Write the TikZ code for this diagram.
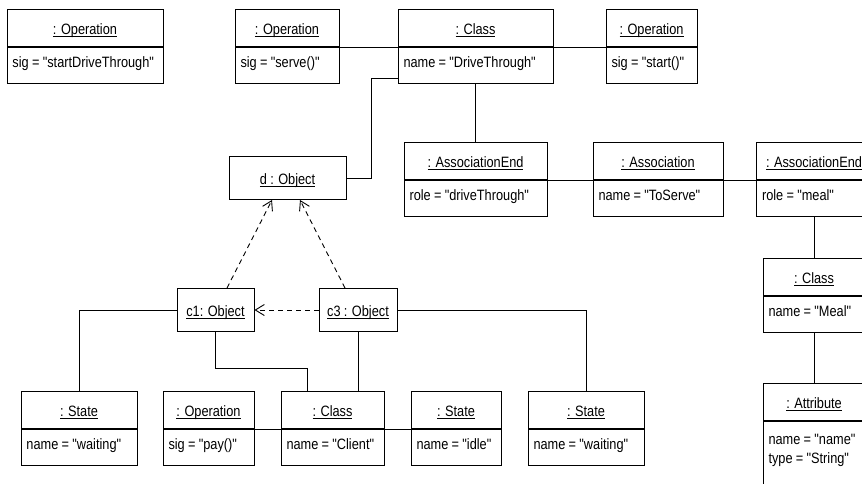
\documentclass[tikz,border=0pt]{standalone}
\usepackage{fontspec}
\newfontfamily\umlsans{Liberation Sans}[FakeStretch=0.85]
\usetikzlibrary{arrows.meta,positioning}
\newcommand{\umlfont}{\umlsans\fontsize{15}{19.5}\selectfont
  \spaceskip=3.3pt plus 1pt minus 1pt\relax}
\newcommand{\uname}[1]{\setbox0\hbox{#1}\rlap{\rule[-2.6pt]{\wd0}{0.9pt}}\box0}

\begin{document}
\begin{tikzpicture}[
  x=1pt, y=-1pt,
  font=\umlfont,
  objtitle/.style={
    draw,
    line width=1pt,
    anchor=north,
    minimum width=#1,
    minimum height=37pt,
    inner sep=0pt,
    text height=13pt,
    text depth=0pt
  },
  objsingle/.style={objtitle=#1, minimum height=43pt},
  objattr/.style={
    draw,
    line width=1pt,
    anchor=north,
    text width=#1,
    minimum height=36pt,
    inner xsep=5.5pt,
    inner ysep=0pt,
    align=left,
    text height=10pt,
    text depth=6pt,
    execute at begin node={\spaceskip=3.3pt plus 1pt minus 1pt\relax
      \rightskip=0pt plus 1fil minus 60pt\relax}
  },
  link/.style={line width=0.9pt},
  inst/.style={link, dash pattern=on 5pt off 4pt,
    -{Straight Barb[length=9pt,width=11pt]}},
]
\useasboundingbox (0,0) rectangle (862,483);
\clip (0,0) rectangle (862,483);

% Top row.
\node[objtitle=156pt] (opDrive) at (85,9) {\uname{: Operation}};
\node[objattr=145pt, below=0pt of opDrive] (opDriveA) {sig = "startDriveThrough"};
\node[objtitle=104pt] (opServe) at (287,9) {\uname{: Operation}};
\node[objattr=93pt, below=0pt of opServe] (opServeA) {sig = "serve()"};
\node[objtitle=155pt] (clsDrive) at (475.5,9) {\uname{: Class}};
\node[objattr=144pt, below=0pt of clsDrive] (clsDriveA) {name = "DriveThrough"};
\node[objtitle=91pt] (opStart) at (651.5,9) {\uname{: Operation}};
\node[objattr=80pt, below=0pt of opStart] (opStartA) {sig = "start()"};

% Association row.
\node[objsingle=117pt] (dObj) at (287.5,156) {\uname{d : Object}};
\node[objtitle=143pt] (aeDrive) at (475.5,142) {\uname{: AssociationEnd}};
\node[objattr=132pt, below=0pt of aeDrive] (aeDriveA) {role = "driveThrough"};
\node[objtitle=130pt] (assoc) at (658,142) {\uname{: Association}};
\node[objattr=119pt, below=0pt of assoc] (assocA) {name = "ToServe"};
\node[objtitle=115pt] (aeMeal) at (814,142) {\uname{: AssociationEnd}};
\node[objattr=104pt, below=0pt of aeMeal] (aeMealA) {role = "meal"};

% Meal column.
\node[objtitle=102pt] (clsMeal) at (814,258) {\uname{: Class}};
\node[objattr=91pt, below=0pt of clsMeal] (clsMealA) {name = "Meal"};
\node[objtitle=102pt] (attrName) at (814,383) {\uname{: Attribute}};
\node[objattr=91pt, below=0pt of attrName, text height=10.5pt, text depth=60pt,
      inner ysep=12pt] (attrNameA) {name = "name"\\type = "String"};

% Instances.
\node[objsingle=77pt] (cOne) at (215.5,288) {\uname{c1: Object}};
\node[objsingle=78pt] (cThree) at (358,288) {\uname{c3 : Object}};

% Bottom row.
\node[objtitle=116pt] (stWait) at (79,391) {\uname{: State}};
\node[objattr=105pt, below=0pt of stWait] (stWaitA) {name = "waiting"};
\node[objtitle=91pt] (opPay) at (208.5,391) {\uname{: Operation}};
\node[objattr=80pt, below=0pt of opPay] (opPayA) {sig = "pay()"};
\node[objtitle=103pt] (clsClient) at (332.5,391) {\uname{: Class}};
\node[objattr=92pt, below=0pt of clsClient] (clsClientA) {name = "Client"};
\node[objtitle=90pt] (stIdle) at (456,391) {\uname{: State}};
\node[objattr=79pt, below=0pt of stIdle] (stIdleA) {name = "idle"};
\node[objtitle=116pt] (stWaitB) at (586,391) {\uname{: State}};
\node[objattr=105pt, below=0pt of stWaitB] (stWaitBA) {name = "waiting"};

% Links.
\draw[link] (opServe.south east) -- (clsDrive.south west);
\draw[link] (clsDrive.south east) -- (opStart.south west);
\draw[link] (dObj.east) -- ++(25,0) |- ([yshift=6pt]clsDriveA.south west);
\draw[link] (clsDriveA.south) -- (aeDrive.north);
\draw[link] (aeDrive.south east) -- (assoc.south west);
\draw[link] (assoc.south east) -- (aeMeal.south west);
\draw[link] (aeMealA.south) -- (clsMeal.north);
\draw[link] (clsMealA.south) -- (attrName.north);
\draw[link] (cOne.west) -| (stWait.north);
\draw[link] (cOne.south) -- ++(0,36) -| ([xshift=-25pt]clsClient.north);
\draw[link] (cThree.south) -- (cThree.south |- clsClient.north);
\draw[link] (cThree.east) -| (stWaitB.north);
\draw[link] (opPay.south east) -- (clsClient.south west);
\draw[link] (clsClient.south east) -- (stIdle.south west);

% Instance-of arrows.
\draw[inst] ([xshift=11.5pt]cOne.north) -- ([xshift=-15.5pt]dObj.south);
\draw[inst] ([xshift=-13pt]cThree.north) -- ([xshift=12.5pt]dObj.south);
\draw[inst] (cThree.west) -- (cOne.east);

\end{tikzpicture}
\end{document}
